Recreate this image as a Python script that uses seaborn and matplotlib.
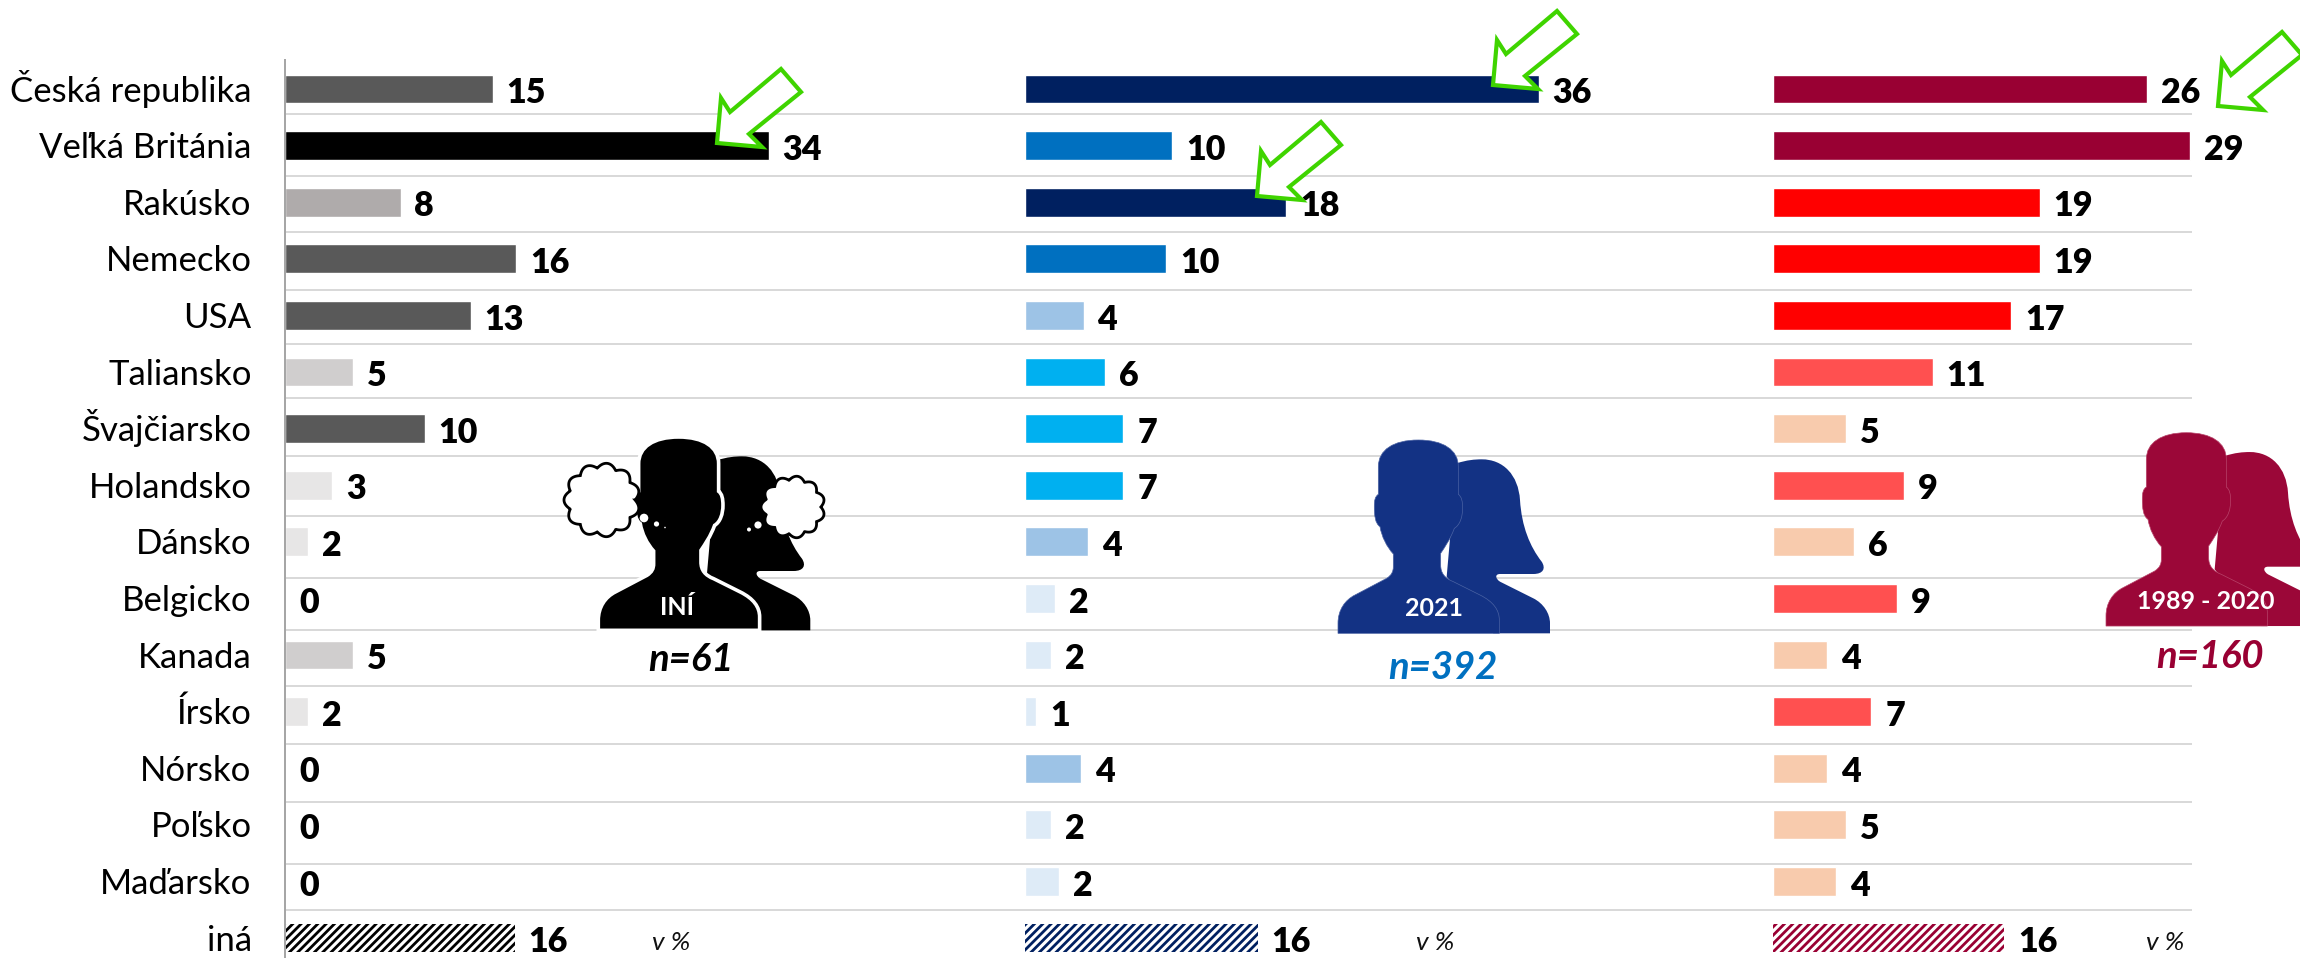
import numpy as np
import pandas as pd
import seaborn as sns
import matplotlib.pyplot as plt
from matplotlib.patches import Circle, PathPatch, Polygon
from matplotlib.path import Path
from matplotlib.transforms import Affine2D, ScaledTranslation

# Data
countries = ["Česká republika", "Veľká Británia", "Rakúsko", "Nemecko", "USA", "Taliansko",
             "Švajčiarsko", "Holandsko", "Dánsko", "Belgicko", "Kanada", "Írsko", "Nórsko",
             "Poľsko", "Maďarsko", "iná"]
ini_values = [14.55, 33.9, 8.1, 16.2, 13.0, 4.8, 9.8, 3.3, 1.6, 0, 4.8, 1.6, 0, 0, 0, 16.1]
y2021_values = [36.0, 10.3, 18.3, 9.9, 4.1, 5.6, 6.9, 6.9, 4.4, 2.1, 1.8, 0.8, 3.9, 1.8, 2.4, 16.3]
y1989_values = [26.2, 29.2, 18.7, 18.7, 16.7, 11.2, 5.1, 9.2, 5.7, 8.7, 3.8, 6.9, 3.8, 5.1, 4.4, 16.2]

ini_colors = ["#595959", "#000000", "#AFABAB", "#595959", "#595959", "#D0CECE", "#595959", "#E7E6E6",
              "#E7E6E6", "#E7E6E6", "#D0CECE", "#E7E6E6", "#E7E6E6", "#E7E6E6", "#E7E6E6", "#000000"]
y2021_colors = ["#002060", "#0070C0", "#002060", "#0070C0", "#9DC3E6", "#00B0F0", "#00B0F0", "#00B0F0",
                "#9DC3E6", "#DEEBF7", "#DEEBF7", "#DEEBF7", "#9DC3E6", "#DEEBF7", "#DEEBF7", "#002060"]
y1989_colors = ["#990033", "#990033", "#FF0000", "#FF0000", "#FF0000", "#FF5050", "#F8CBAD", "#FF5050",
                "#F8CBAD", "#FF5050", "#F8CBAD", "#FF5050", "#F8CBAD", "#F8CBAD", "#F8CBAD", "#990033"]

# Layout, in pixels of the 2300x958 picture
W, H = 2300, 958
ROW0, ROW_STEP = 89, 56.6
PX_PER_UNIT = 14.27
AX_TOP, AX_BOTTOM = 60, 958
panel_edges = [285, 1025, 1773, 2192]
grid_px = [114, 176, 232, 290, 344, 398, 456, 516, 578, 630, 686, 744, 802, 864, 910]

sns.set_theme(style="white")
plt.rcParams["font.family"] = ["Lato", "DejaVu Sans"]
plt.rcParams["hatch.linewidth"] = 2.0

fig = plt.figure(figsize=(W / 100, H / 100), dpi=100, facecolor="white")
px = Affine2D().scale(1 / W, -1 / H).translate(0, 1) + fig.transFigure

panels = [(ini_values, ini_colors), (y2021_values, y2021_colors), (y1989_values, y1989_colors)]
for i, (values, colors) in enumerate(panels):
    left, right = panel_edges[i], panel_edges[i + 1]
    ax = fig.add_axes([left / W, 1 - AX_BOTTOM / H, (right - left) / W, (AX_BOTTOM - AX_TOP) / H])
    ax.patch.set_alpha(0)
    df = pd.DataFrame({"krajina": countries, "podiel": values})
    sns.barplot(data=df, y="krajina", x="podiel", hue="krajina", hue_order=countries, palette=colors,
                saturation=1, width=0.51, dodge=False, legend=False, ax=ax)
    ax.set_xlim(0, (right - left) / PX_PER_UNIT)
    ax.set_ylim((AX_BOTTOM - ROW0) / ROW_STEP, (AX_TOP - ROW0) / ROW_STEP)
    ax.set_xlabel("")
    ax.set_ylabel("")
    ax.set_xticks([])
    sns.despine(ax=ax, left=True, bottom=True)
    for g in grid_px:
        ax.axhline((g - ROW0) / ROW_STEP, color="#D9D9D9", lw=1.44, zorder=0)

    for container, color in zip(ax.containers, colors):
        for ann in ax.bar_label(container, fmt="%.0f", padding=10, fontsize=24.5, fontweight="heavy",
                                color="black"):
            ann.xyann = (ann.xyann[0], -3)

    # hatched bar for "iná"
    hatched = ax.containers[-1][0]
    hatched.set(facecolor="white", edgecolor=colors[-1], hatch="////", linewidth=0)

    if i == 0:
        ax.spines["left"].set_visible(True)
        ax.spines["left"].set(color="#A6A6A6", linewidth=1.44)
        ax.tick_params(axis="y", length=0, pad=24, labelsize=25, labelcolor="black")
        # baseline alignment so the accents do not move the names up or down
        for label in ax.get_yticklabels():
            label.set_verticalalignment("baseline")
            label.set_transform(label.get_transform() + ScaledTranslation(0, -0.125, fig.dpi_scale_trans))
    else:
        ax.set_yticks([])

# Green arrows
arrow_shape = np.array([(0, 0), (4, -45), (13, -31), (64, -74), (84, -51), (32, -9), (45, 4)])
for tip in [(717, 143), (1493, 85), (1257, 196), (2218, 106)]:
    fig.add_artist(Polygon(arrow_shape + tip, closed=True, facecolor="white", edgecolor="#3FD400",
                           lw=3, joinstyle="miter", transform=px, zorder=5))


def curve(start, *segments):
    # builds a closed path: one point is a straight line, three points a bezier
    verts, codes = [start], [Path.MOVETO]
    for seg in segments:
        if len(seg) == 1:
            verts += seg
            codes += [Path.LINETO]
        else:
            verts += seg
            codes += [Path.CURVE4] * 3
    verts.append(start)
    codes.append(Path.CLOSEPOLY)
    return np.array(verts, dtype=float), codes


man_v, man_c = curve((174, 700), [(174, 670)], [(174, 630), (195, 600), (225, 585)], [(320, 535)],
                     [(335, 525), (340, 515), (340, 500)], [(340, 462)], [(320, 440), (305, 410), (300, 380)],
                     [(285, 370), (283, 345), (283, 320)], [(283, 300), (285, 290), (295, 283)], [(295, 200)],
                     [(295, 150), (340, 120), (415, 120)], [(490, 120), (535, 150), (535, 200)], [(535, 283)],
                     [(545, 290), (548, 305), (548, 325)], [(548, 350), (540, 375), (523, 385)],
                     [(510, 420), (495, 440), (482, 460)], [(482, 495)], [(482, 520), (495, 535), (520, 545)],
                     [(600, 585)], [(640, 605), (658, 630), (658, 660)], [(658, 700)])
woman_v, woman_c = curve((530, 190), [(560, 180), (585, 178), (605, 178)], [(670, 178), (715, 225), (720, 300)],
                         [(725, 380), (750, 440), (785, 485)], [(798, 505), (790, 522), (760, 522)], [(660, 522)],
                         [(645, 522), (645, 535), (660, 545)], [(760, 595)], [(790, 610), (810, 640), (810, 670)],
                         [(810, 700)], [(640, 700)], [(500, 530)])


def people(ox, oy, color, edge, lw):
    for v, c, e, w in [(woman_v, woman_c, color, 0), (man_v, man_c, edge, lw)]:
        path = Path(v / 3 + (ox, oy), c)
        fig.add_artist(PathPatch(path, facecolor=color, edgecolor=e, lw=w, transform=px, zorder=3))


people(540.3, 397, "#000000", "white", 2.6)
people(1280, 400, "#133284", "#4A62A3", 0.5)
people(2048, 392.7, "#9B0738", "#B8446A", 0.5)


def cloud(cx, cy, rx, ry, lobes):
    t = np.linspace(0, 2 * np.pi, 400)
    r = 0.87 + 0.13 * np.abs(np.sin(lobes * t / 2))
    fig.add_artist(Polygon(np.c_[cx + rx * r * np.cos(t), cy + ry * r * np.sin(t)], closed=True,
                           facecolor="white", edgecolor="black", lw=2, transform=px, zorder=4))


cloud(602, 500, 38, 37, 11)
cloud(793, 507, 32, 31, 11)
for x, y, r in [(644, 518, 4.3), (656.5, 524, 2.6), (665, 527.5, 0.8), (758, 525, 3.6), (749, 529.5, 2)]:
    fig.add_artist(Circle((x, y), r, facecolor="white", edgecolor="none", transform=px, zorder=5))

# Text on the silhouettes and sample sizes
for x, y, s in [(677, 608, "INÍ"), (1434, 609, "2021"), (2206, 602, "1989 - 2020")]:
    fig.text(x, y, s, transform=px, color="white", fontsize=18, fontweight="bold", ha="center", va="center", zorder=6)
for x, y, s, c in [(691, 660, "n=61", "#000000"), (1443, 668, "n=392", "#0070C0"), (2210, 657, "n=160", "#990033")]:
    fig.text(x, y, s, transform=px, color=c, fontsize=27.5, fontweight="bold", style="italic",
             ha="center", va="center", zorder=6)
for x in [671, 1435, 2165]:
    fig.text(x, 943, "v %", transform=px, color="#111111", fontsize=19, style="italic",
             ha="center", va="center", zorder=6)

fig.savefig("out.png", dpi=100)
